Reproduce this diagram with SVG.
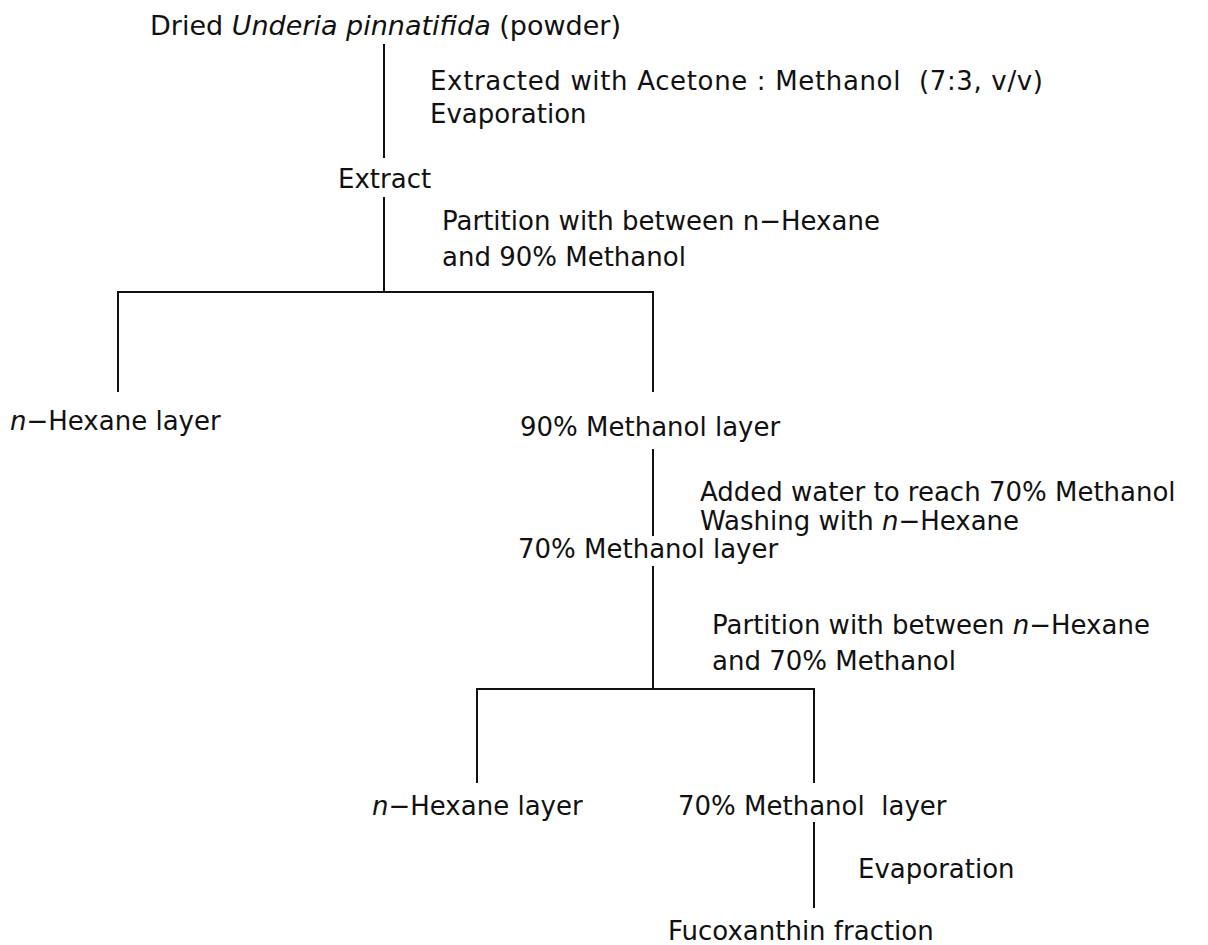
<svg xmlns="http://www.w3.org/2000/svg" width="1208" height="945" viewBox="0 0 1208 945">
  <style>
    text { font-family: "DejaVu Sans", "Liberation Sans", sans-serif; font-size: 26px; fill: #111; }
    .title { font-size: 27px; }
    .it { font-style: italic; }
    .ln { stroke: #111; stroke-width: 2; fill: none; }
  </style>
  <rect width="1208" height="945" fill="#fff"/>

  <!-- flow connectors -->
  <g id="connectors">
    <line class="ln" x1="384" y1="44" x2="384" y2="158"/>
    <line class="ln" x1="384" y1="197" x2="384" y2="292"/>
    <polyline class="ln" points="118,392 118,292 653,292 653,392"/>
    <line class="ln" x1="653" y1="449" x2="653" y2="536"/>
    <line class="ln" x1="653" y1="566" x2="653" y2="689"/>
    <polyline class="ln" points="477,783 477,689 814,689 814,783"/>
    <line class="ln" x1="814" y1="822" x2="814" y2="908"/>
  </g>

  <!-- step annotations -->
  <g id="step-extraction">
    <text x="430" y="90" textLength="613" lengthAdjust="spacing">Extracted with Acetone : Methanol&#160; (7:3, v/v)</text>
    <text x="430" y="123">Evaporation</text>
  </g>
  <g id="step-partition-1">
    <text x="442" y="230">Partition with between n−Hexane</text>
    <text x="442" y="266">and 90% Methanol</text>
  </g>
  <g id="step-wash">
    <text x="700" y="501">Added water to reach 70% Methanol</text>
    <text x="700" y="530">Washing with <tspan class="it">n</tspan>−Hexane</text>
  </g>
  <g id="step-partition-2">
    <text x="712" y="634">Partition with between <tspan class="it">n</tspan>−Hexane</text>
    <text x="712" y="670">and 70% Methanol</text>
  </g>
  <g id="step-evaporation">
    <text x="858" y="878">Evaporation</text>
  </g>

  <!-- material nodes -->
  <g id="node-powder">
    <text class="title" x="150" y="35">Dried <tspan class="it">Underia pinnatifida</tspan> (powder)</text>
  </g>
  <g id="node-extract">
    <text x="338" y="188">Extract</text>
  </g>
  <g id="node-hexane-1">
    <text x="10" y="430"><tspan class="it">n</tspan>−Hexane layer</text>
  </g>
  <g id="node-meoh90">
    <text x="520" y="436">90% Methanol layer</text>
  </g>
  <g id="node-meoh70">
    <text x="518" y="558">70% Methanol layer</text>
  </g>
  <g id="node-hexane-2">
    <text x="372" y="815"><tspan class="it">n</tspan>−Hexane layer</text>
  </g>
  <g id="node-meoh70-final">
    <text x="678" y="815">70% Methanol&#160; layer</text>
  </g>
  <g id="node-fucoxanthin">
    <text x="668" y="940">Fucoxanthin fraction</text>
  </g>
</svg>
